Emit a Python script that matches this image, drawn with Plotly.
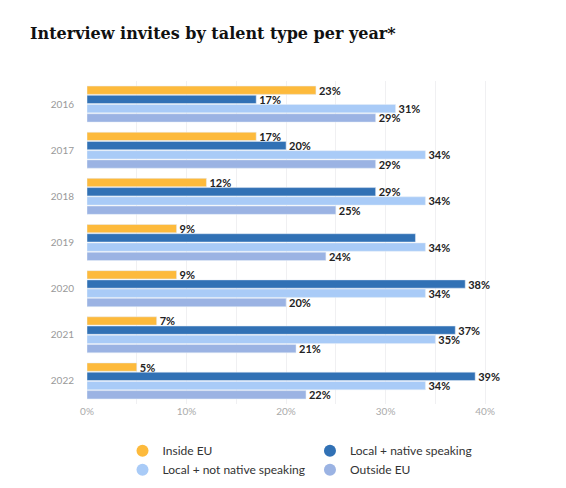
import plotly.graph_objects as go

years = ["2016", "2017", "2018", "2019", "2020", "2021", "2022"]
series_names = ["Inside EU", "Local + native speaking", "Local + not native speaking", "Outside EU"]
inside_eu = [23, 17, 12, 9, 9, 7, 5]
local_native = [17, 20, 29, 33, 38, 37, 39]
local_not_native = [31, 34, 34, 34, 34, 35, 34]
outside_eu = [29, 29, 25, 24, 20, 21, 22]
labels_local_native = ["17%", "20%", "29%", "", "38%", "37%", "39%"]
colors = ["#FDBA3C", "#3171B5", "#A9CBF7", "#9BB3E3"]
tick_vals = [0, 10, 20, 30, 40]
tick_text = ["0%", "10%", "20%", "30%", "40%"]

values = [inside_eu, local_native, local_not_native, outside_eu]
texts = [[f"<b>{v}%</b>" for v in inside_eu],
         [f"<b>{t}</b>" if t else "" for t in labels_local_native],
         [f"<b>{v}%</b>" for v in local_not_native],
         [f"<b>{v}%</b>" for v in outside_eu]]

fig = go.Figure()
for name, vals, txt, c in zip(series_names, values, texts, colors):
    fig.add_trace(go.Bar(
        y=years, x=vals, orientation="h", name=name, marker_color=c,
        text=txt, textposition="outside", cliponaxis=False,
        textfont=dict(family="Lato", size=11, color="#222"),
        showlegend=False, hoverinfo="skip"))
    fig.add_trace(go.Scatter(
        x=[None], y=[None], mode="markers", name=name,
        marker=dict(symbol="circle", size=12, color=c)))

fig.update_layout(
    width=566, height=488,
    barmode="group", bargap=0.2, bargroupgap=0.1,
    uniformtext=dict(minsize=11, mode="show"),
    paper_bgcolor="white", plot_bgcolor="white",
    margin=dict(l=79, r=61, t=73, b=70),
    title=dict(text="<b>Interview invites by talent type per year*</b>",
               x=0.039, xanchor="left", y=0.948, yanchor="middle",
               font=dict(family="DejaVu Serif", size=16, color="#111")),
    xaxis=dict(range=[0, 42.8], tickvals=tick_vals, ticktext=tick_text,
               showgrid=True, gridcolor="#F0F0F2",
               zeroline=False, tickfont=dict(family="Lato", size=10, color="#AAA"),
               showline=False),
    yaxis=dict(autorange="reversed", tickfont=dict(family="Lato", size=10, color="#999"),
               showgrid=False, ticklabelstandoff=12),
    legend=dict(orientation="h", x=0.5, xanchor="center", y=-0.1, yanchor="top",
                xref="paper", font=dict(family="Lato", size=12, color="#333"),
                itemsizing="constant", entrywidthmode="pixels"),
)
fig.update_xaxes(minor=dict(dtick=5, showgrid=True, gridcolor="#F0F0F2"))
fig.write_html("out.html")
